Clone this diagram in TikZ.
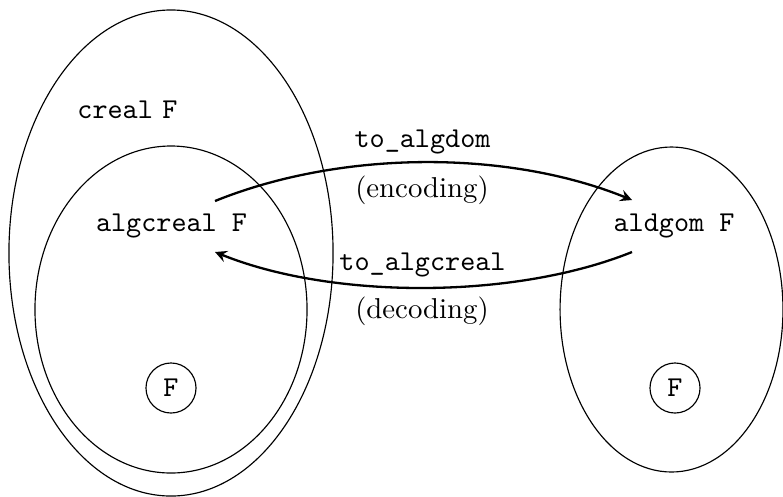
\documentclass[tikz,border=0pt]{standalone}
\usetikzlibrary{shapes.geometric}
\begin{document}
\begin{tikzpicture}[x=0.3477pt,y=0.3477pt,
  region/.style={draw, ellipse, line width=0.4pt, inner sep=0pt},
  elem/.style={draw, circle, line width=0.4pt, minimum size=17.4pt, inner sep=0pt},
  lbl/.style={inner sep=0pt, anchor=base},
  conn/.style={-stealth, thick}]
\useasboundingbox (0,0) rectangle (783,496);
\node[region, minimum width=112.7pt, minimum height=169pt] (creal) at (171,243) {};
\node[region, minimum width=94.6pt, minimum height=113.7pt] (algset) at (171,186.5) {};
\node[region, minimum width=77.5pt, minimum height=113pt] (domset) at (671.5,186.5) {};
\node[elem] (f1) at (171,108) {\texttt{F}};
\node[elem] (f2) at (675,108) {\texttt{F}};
\node[lbl] (creallbl) at (127.5,378) {\texttt{creal} \texttt{F}};
\node[lbl] (algc) at (171.5,264.3) {\texttt{algcreal F}};
\node[lbl] (aldg) at (674,264.3) {\texttt{aldgom F}};
\node[lbl] (enclbl) at (422.5,349) {\texttt{to\_algdom}};
\node[lbl] (encnote) at (422,298.5) {(encoding)};
\node[lbl] (declbl) at (422.5,226) {\texttt{to\_algcreal}};
\node[lbl] (decnote) at (422,178) {(decoding)};
\draw[conn] ([shift={(43.5,30.7)}]algc.base) to[out=22,in=158,looseness=0.83] ([shift={(-42,31.7)}]aldg.base);
\draw[conn] ([shift={(-42,-20.3)}]aldg.base) to[out=202,in=-22,looseness=0.78] ([shift={(43.5,-20.3)}]algc.base);
\end{tikzpicture}
\end{document}
